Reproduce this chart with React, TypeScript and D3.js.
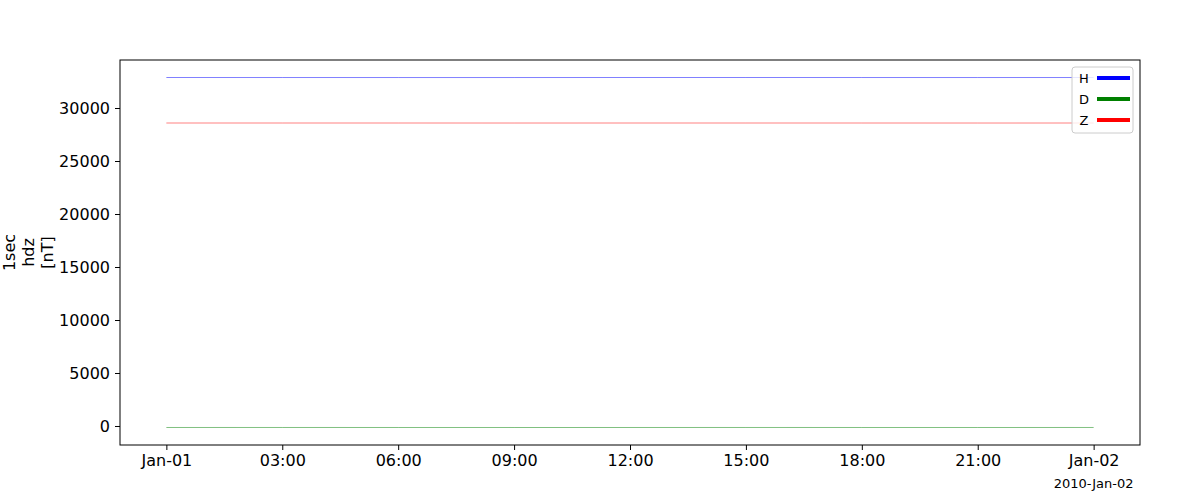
import { useEffect, useRef } from 'react'
import * as d3 from 'd3'

// sample times (UTC), every 3 hours
const times = [
  '2010-01-01T00:00:00Z', '2010-01-01T03:00:00Z', '2010-01-01T06:00:00Z',
  '2010-01-01T09:00:00Z', '2010-01-01T12:00:00Z', '2010-01-01T15:00:00Z',
  '2010-01-01T18:00:00Z', '2010-01-01T21:00:00Z', '2010-01-02T00:00:00Z'
]
const hValues = [32878, 32877, 32875, 32876, 32879, 32878, 32877, 32876, 32877]
const dValues = [-141, -140, -141, -142, -141, -140, -141, -141, -140]
const zValues = [28585, 28586, 28585, 28584, 28585, 28586, 28585, 28584, 28585]

const seriesNames = ['H', 'D', 'Z']
const seriesColors = ['blue', 'green', 'red']
const yTicks = [0, 5000, 10000, 15000, 20000, 25000, 30000]
const yLabelLines = ['1sec', 'hdz', '[nT]']
const footLabel = '2010-Jan-02'

export default function App() {
  const svgRef = useRef<SVGSVGElement>(null)

  useEffect(() => {
    if (!svgRef.current) return
    const svg = d3.select(svgRef.current)
    svg.selectAll('*').remove()

    const margin = { top: 60, right: 60, bottom: 55, left: 120 }
    const width = 1200, height = 500
    const innerWidth = width - margin.left - margin.right
    const innerHeight = height - margin.top - margin.bottom

    const dates = times.map(t => new Date(t))
    const all = [...hValues, ...dValues, ...zValues]
    const yMin = d3.min(all)!, yMax = d3.max(all)!
    const yPad = (yMax - yMin) * 0.05
    const t0 = dates[0].getTime(), t1 = dates[dates.length - 1].getTime()
    const xPad = (t1 - t0) * 0.05

    const x = d3.scaleUtc()
      .domain([new Date(t0 - xPad), new Date(t1 + xPad)])
      .range([0, innerWidth])
    const y = d3.scaleLinear()
      .domain([yMin - yPad, yMax + yPad])
      .range([innerHeight, 0])

    const g = svg.append('g')
      .attr('transform', `translate(${margin.left},${margin.top})`)

    const font = 'DejaVu Sans, sans-serif'

    // lines
    const series = [hValues, dValues, zValues]
    const line = d3.line<number>()
      .x((d, i) => x(dates[i]))
      .y(d => y(d))
    series.forEach((vals, i) => {
      g.append('path')
        .datum(vals)
        .attr('fill', 'none')
        .attr('stroke', seriesColors[i])
        .attr('stroke-width', 0.5)
        .attr('d', line)
    })

    // frame
    g.append('rect')
      .attr('width', innerWidth)
      .attr('height', innerHeight)
      .attr('fill', 'none')
      .attr('stroke', 'black')
      .attr('stroke-width', 1)

    // x axis
    const xTicks = d3.utcHour.every(3)!.range(dates[0], new Date(t1 + 1))
    const fmt = (d: Date) => d.getUTCHours() === 0 ? d3.utcFormat('%b-%d')(d) : d3.utcFormat('%H:%M')(d)
    const xAxis = g.append('g')
      .attr('transform', `translate(0,${innerHeight})`)
      .call(d3.axisBottom(x).tickValues(xTicks).tickFormat(d => fmt(d as Date)).tickSize(5).tickPadding(5))
    xAxis.select('.domain').remove()
    xAxis.selectAll('text').attr('font-family', font).attr('font-size', 16).attr('fill', 'black')
    xAxis.selectAll('line').attr('stroke', 'black')

    // y axis
    const yAxis = g.append('g')
      .call(d3.axisLeft(y).tickValues(yTicks).tickFormat(d3.format('d')).tickSize(5).tickPadding(5))
    yAxis.select('.domain').remove()
    yAxis.selectAll('text').attr('font-family', font).attr('font-size', 16).attr('fill', 'black')
    yAxis.selectAll('line').attr('stroke', 'black')

    // y label
    const yl = svg.append('text')
      .attr('transform', `translate(0,${margin.top + innerHeight / 2}) rotate(-90)`)
      .attr('text-anchor', 'middle')
      .attr('font-family', font)
      .attr('font-size', 16)
    yLabelLines.forEach((t, i) => {
      yl.append('tspan')
        .attr('x', 0)
        .attr('y', 15 + i * 19)
        .text(t)
    })

    // date footer
    svg.append('text')
      .attr('x', margin.left + x(dates[dates.length - 1]))
      .attr('y', 488)
      .attr('text-anchor', 'middle')
      .attr('font-family', font)
      .attr('font-size', 13)
      .text(footLabel)

    // legend
    const lg = g.append('g').attr('transform', `translate(${innerWidth - 68},7)`)
    lg.append('rect')
      .attr('width', 61)
      .attr('height', 66)
      .attr('rx', 3)
      .attr('fill', 'white')
      .attr('fill-opacity', 0.8)
      .attr('stroke', '#cccccc')
    seriesNames.forEach((name, i) => {
      const yy = 11 + i * 21
      lg.append('text')
        .attr('x', 12)
        .attr('y', yy)
        .attr('dy', '0.35em')
        .attr('text-anchor', 'middle')
        .attr('font-family', font)
        .attr('font-size', 13)
        .text(name)
      lg.append('line')
        .attr('x1', 25).attr('x2', 58)
        .attr('y1', yy).attr('y2', yy)
        .attr('stroke', seriesColors[i])
        .attr('stroke-width', 4)
    })
  }, [])

  return (
    <svg ref={svgRef} width={1200} height={500}
      style={{ position: 'absolute', left: 0, top: 0, background: 'white' }} />
  )
}
